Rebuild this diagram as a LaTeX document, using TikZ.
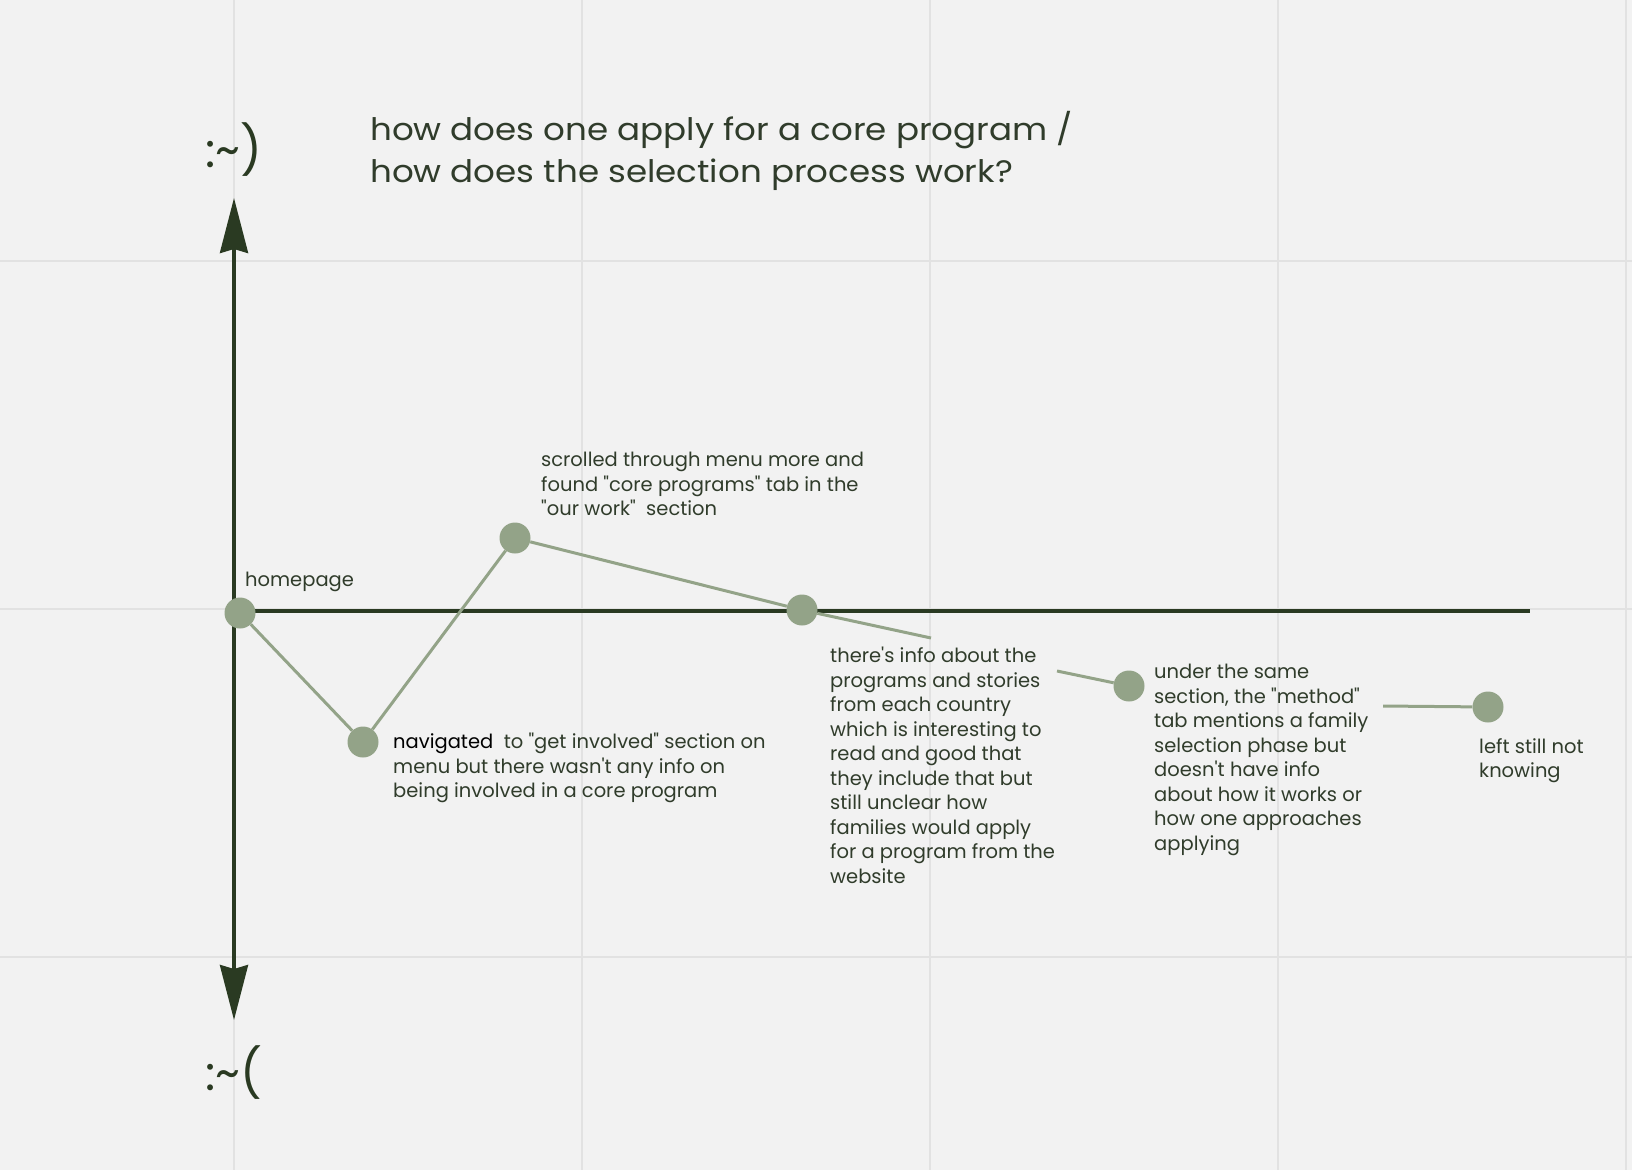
\documentclass[tikz,border=0pt]{standalone}
\usepackage{fontspec}
\setmainfont{Poppins}[Ligatures=TeXOff]
\usetikzlibrary{arrows.meta}
\definecolor{bgc}{HTML}{F2F2F2}
\definecolor{gridc}{HTML}{E2E2E2}
\definecolor{axisc}{HTML}{2A3A22}
\definecolor{dotc}{HTML}{93A388}
\definecolor{textc}{HTML}{303C2B}
\tikzset{
  gridline/.style={draw=gridc, line width=2pt},
  axisline/.style={draw=axisc, line width=3.5pt},
  axistip/.style={-{Stealth[length=55pt,width=28pt,inset=4pt]}},
  dot/.style={circle, fill=dotc, minimum size=31pt, inner sep=0pt},
  link/.style={draw=dotc, line width=3pt},
  lbl/.style={anchor=north west, inner sep=0pt, align=left, text=textc,
    font=\fontsize{19.5}{24.5}\selectfont},
  ttl/.style={anchor=north west, inner sep=0pt, align=left, text=textc,
    xscale=1.1, font=\fontsize{31}{42}\selectfont},
  smiley/.style={inner sep=0pt, text=axisc, font=\fontsize{48}{56}\selectfont}
}
\begin{document}
\begin{tikzpicture}[x=1pt,y=-1pt]
\fill[bgc] (0,0) rectangle (1632,1170);
\useasboundingbox (0,0) rectangle (1632,1170);
\foreach \x in {234,582,930,1278,1626} \draw[gridline] (\x,0) -- (\x,1170);
\foreach \y in {261,609,957} \draw[gridline] (0,\y) -- (1632,\y);

\coordinate (ytop) at (234,198);
\coordinate (ybot) at (234,1020);
\coordinate (origin) at (234,611);
\coordinate (xend) at (1530,611);
\draw[axisline, axistip] (origin) -- (ytop);
\draw[axisline, axistip] (origin) -- (ybot);
\draw[axisline] (origin) -- (xend);

\node[smiley] (happy) at (234,150) {:\raisebox{1pt}{\char"7E})};
\node[smiley] (sad) at (234,1073) {:\raisebox{1pt}{\char"7E}(};

\node[ttl] (title) at (370,111) {how does one apply for a core program /\\how does the selection process work?};

\node[dot] (c1) at (240,613) {};
\node[dot] (c2) at (363,742) {};
\node[dot] (c3) at (515,538) {};
\node[dot] (c4) at (802,610) {};
\node[dot] (c5) at (1129,686) {};
\node[dot] (c6) at (1488,707) {};
\coordinate (e4) at (931,638);
\coordinate (s5) at (1057,671);
\coordinate (s6) at (1383,706);
\draw[link] (c1) -- (c2);
\draw[link] (c2) -- (c3);
\draw[link] (c3) -- (c4);
\draw[link] (c4) -- (e4);
\draw[link] (s5) -- (c5);
\draw[link] (s6) -- (c6);

\node[lbl] (l1) at (245,572) {homepage};
\node[lbl] (l2) at (393,733) {{\color{black}navigated}\ \ to "get involved" section on\\menu but there wasn't any info on\\being involved in a core program};
\node[lbl] (l3) at (541,452) {scrolled through menu more and\\found "core programs" tab in the\\"our work"\ \ section};
\node[lbl] (l4) at (830,647) {there's info about the\\programs and stories\\from each country\\which is interesting to\\read and good that\\they include that but\\still unclear how\\families would apply\\for a program from the\\website};
\node[lbl] (l5) at (1154,664) {under the same\\section, the "method"\\tab mentions a family\\selection phase but\\doesn't have info\\about how it works or\\how one approaches\\applying};
\node[lbl] (l6) at (1479,738) {left still not\\knowing};
\end{tikzpicture}
\end{document}
